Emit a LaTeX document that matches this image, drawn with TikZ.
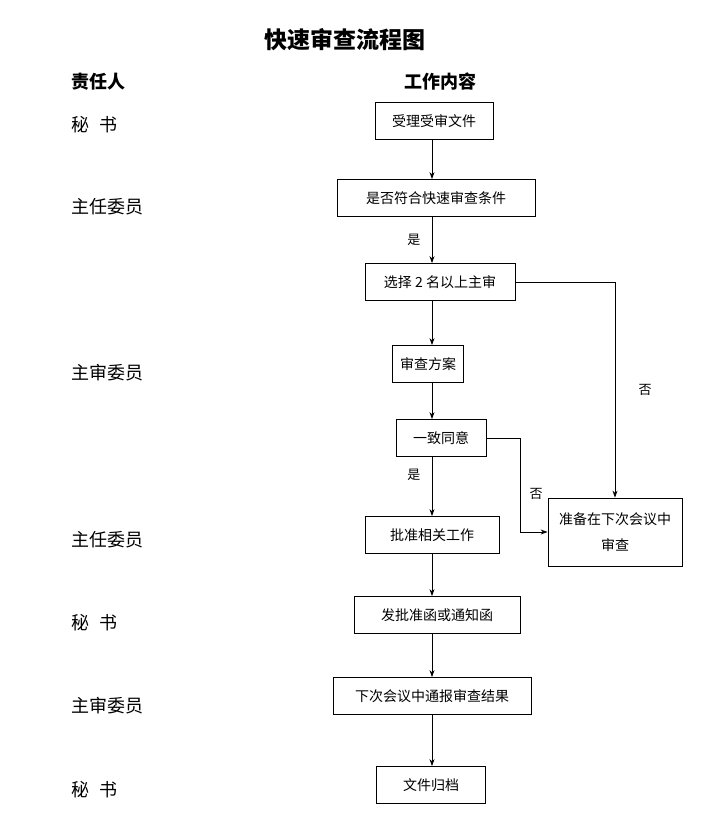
\documentclass[tikz,border=0pt]{standalone}
\usepackage{fontspec}
\setmainfont{Noto Sans CJK SC}
\usetikzlibrary{arrows.meta}

\begin{document}
\begin{tikzpicture}[x=1pt, y=-1pt,
    box/.style={draw, thick, minimum height=37pt, inner sep=4pt, font=\fontsize{14}{16}\selectfont, align=center},
    who/.style={anchor=west, font=\fontsize{18}{20}\selectfont},
    flow/.style={-{Stealth[length=7pt,width=5pt]}, thick},
    lab/.style={font=\fontsize{13}{15}\selectfont}]
  \useasboundingbox (0,0) rectangle (725,836);
  \node (title) at (345,40) {\fontsize{23}{26}\selectfont\bfseries 快速审查流程图};
  \node[who, font=\fontsize{18}{20}\selectfont\bfseries] (resp) at (68,82) {责任人};
  \node[font=\fontsize{18}{20}\selectfont\bfseries] (work) at (440,82) {工作内容};
  % responsible persons
  \node[who] (p1) at (68,125) {秘\hspace{10pt}书};
  \node[who] (p2) at (68,207) {主任委员};
  \node[who] (p3) at (68,373) {主审委员};
  \node[who] (p4) at (68,540) {主任委员};
  \node[who] (p5) at (68,623) {秘\hspace{10pt}书};
  \node[who] (p6) at (68,706) {主审委员};
  \node[who] (p7) at (68,790) {秘\hspace{10pt}书};
  % work boxes
  \node[box, minimum width=118pt] (accept) at (434,121) {受理受审文件};
  \node[box, minimum width=198pt] (check) at (436,198) {是否符合快速审查条件};
  \node[box, minimum width=150pt] (choose) at (440,282) {选择 2 名以上主审};
  \node[box, minimum width=71pt] (plan) at (428,364) {审查方案};
  \node[box, minimum width=90pt] (agree) at (441,438) {一致同意};
  \node[box, minimum width=134pt] (approve) at (432,535) {批准相关工作};
  \node[box, minimum width=166pt] (letter) at (437,615) {发批准函或通知函};
  \node[box, minimum width=198pt] (report) at (432,696) {下次会议中通报审查结果};
  \node[box, minimum width=109pt] (archive) at (431,785) {文件归档};
  \node[box, minimum width=134pt, minimum height=68pt, inner sep=8pt] (next) at (615,532) {准备在下次会议中\\[10pt]审查};
  \coordinate (col) at (432,0);
  \coordinate (bend) at (520,438);
  % connectors
  \draw[flow] (accept.south -| col) -- (check.north -| col);
  \draw[flow] (check.south -| col) -- node[lab, left=8pt, pos=0.5] {是} (choose.north -| col);
  \draw[flow] (choose.south -| col) -- (plan.north -| col);
  \draw[flow] (plan.south -| col) -- (agree.north -| col);
  \draw[flow] (agree.south -| col) -- node[lab, left=8pt, pos=0.3] {是} (approve.north -| col);
  \draw[flow] (approve.south -| col) -- (letter.north -| col);
  \draw[flow] (letter.south -| col) -- (report.north -| col);
  \draw[flow] (report.south -| col) -- (archive.north -| col);
  \draw[flow] (choose.east) -| node[lab, right=20pt, pos=0.75] {否} (next.north);
  \draw[flow] (agree.east) -- (bend) |- node[lab, right=6pt, pos=0.3] {否} (next.west);
\end{tikzpicture}
\end{document}
